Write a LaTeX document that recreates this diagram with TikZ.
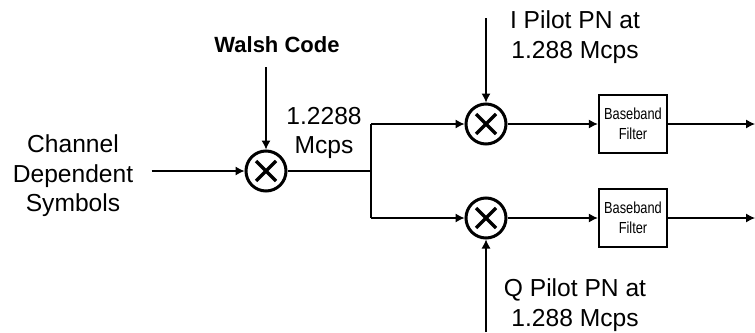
\documentclass[tikz,border=0pt]{standalone}
\usepackage{fontspec}
\setmainfont{Liberation Sans}
\newfontfamily\narrowfont[FakeStretch=0.8]{Liberation Sans}
\usepackage{tikz}
\usetikzlibrary{positioning,arrows.meta}
\tikzset{
  lbl/.style={font=\fontsize{12.3}{14.8}\selectfont, inner sep=2pt, align=center},
  boldlbl/.style={font=\fontsize{11}{13}\selectfont\bfseries, inner sep=2pt, align=center},
  mixer/.style={circle, draw, line width=1.5pt, minimum size=20pt, inner sep=0pt,
    path picture={\draw[line width=1.6pt]
      ([shift={(-5pt,5pt)}]path picture bounding box.center) -- ([shift={(5pt,-5pt)}]path picture bounding box.center)
      ([shift={(-5pt,-5pt)}]path picture bounding box.center) -- ([shift={(5pt,5pt)}]path picture bounding box.center);}},
  filterbox/.style={draw, line width=1.2pt, minimum width=34pt, minimum height=29pt, inner sep=0pt,
    align=center, font=\narrowfont\fontsize{8}{10}\selectfont},
  sig/.style={line width=0.55pt, -{Latex[length=4.5pt,width=4.5pt]}},
  wire/.style={line width=0.55pt},
}
\begin{document}
\begin{tikzpicture}[x=0.5pt, y=-0.5pt]
  \useasboundingbox (0,0) rectangle (755,332);

  % --- input and Walsh spreading ---
  \node[lbl] (sym) at (73,176) {Channel\\Dependent\\Symbols};
  \node[boldlbl] (walsh) at (277,45) {Walsh Code};
  \node[mixer] (mixW) at (266,171) {};
  \node[lbl] (rate) at (324,133) {1.2288\\Mcps};
  \draw[sig, shorten <=7pt] (sym.east |- mixW) -- (mixW);
  \draw[sig, shorten <=5pt] (walsh.south -| mixW) -- (mixW);

  % --- branch point ---
  \coordinate (split) at (371,171);
  \coordinate (splitI) at (371,124);
  \coordinate (splitQ) at (371,218);
  \draw[wire] (mixW) -- (split);
  \draw[wire] (splitI) -- (splitQ);

  % --- I and Q pilot mixers ---
  \node[mixer] (mixI) at (486,124) {};
  \node[mixer] (mixQ) at (486,218) {};
  \node[lbl] (pnI) at (575,37) {I Pilot PN at\\1.288 Mcps};
  \node[lbl] (pnQ) at (575,305) {Q Pilot PN at\\1.288 Mcps};
  \coordinate (srcI) at (486,18);
  \coordinate (srcQ) at (486,332);
  \draw[sig] (splitI) -- (mixI);
  \draw[sig] (splitQ) -- (mixQ);
  \draw[sig] (srcI) -- (mixI);
  \draw[sig] (srcQ) -- (mixQ);

  % --- baseband filters ---
  \node[filterbox] (filtI) at (633,124) {Baseband\\Filter};
  \node[filterbox] (filtQ) at (633,218) {Baseband\\Filter};
  \coordinate (outI) at (755,124);
  \coordinate (outQ) at (755,218);
  \draw[sig] (mixI) -- (filtI);
  \draw[sig] (mixQ) -- (filtQ);
  \draw[sig] (filtI) -- (outI);
  \draw[sig] (filtQ) -- (outQ);
\end{tikzpicture}
\end{document}
